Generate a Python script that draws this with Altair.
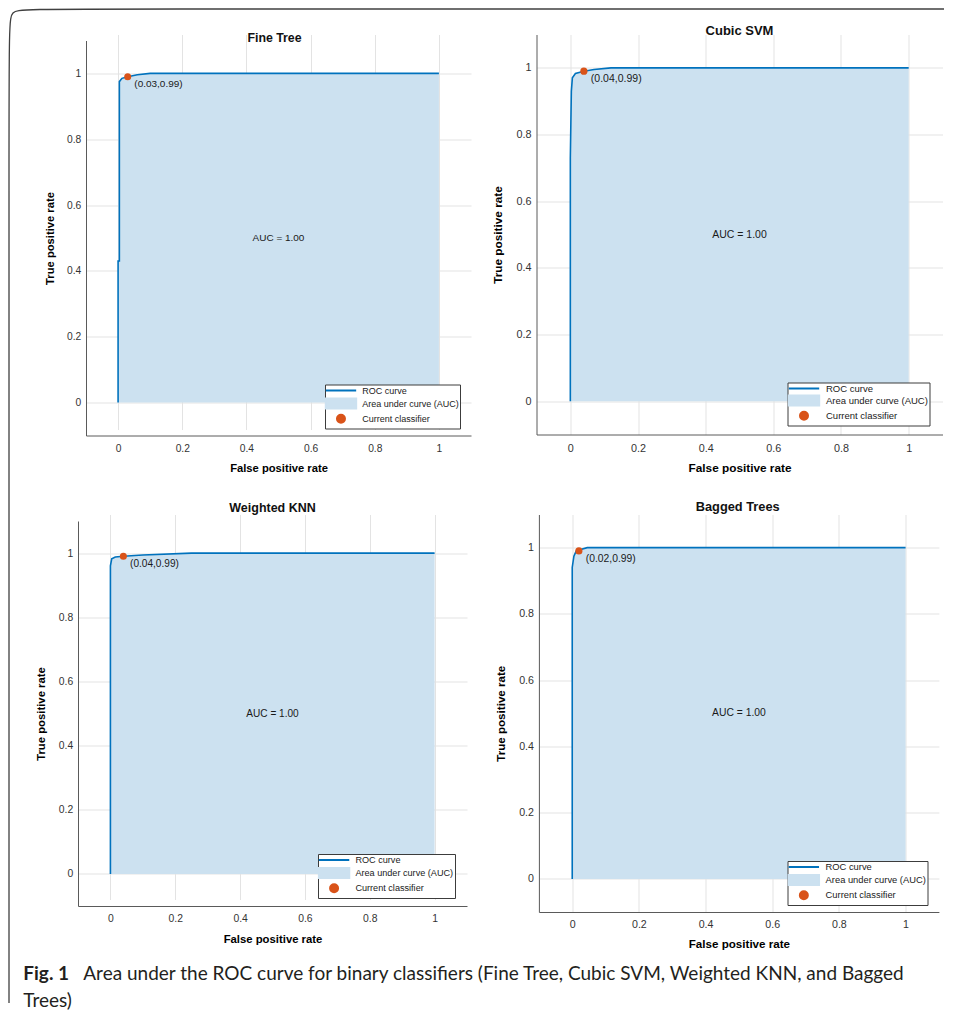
import altair as alt
import pandas as pd

# ---------------- data ----------------
panel_titles = ["Fine Tree", "Cubic SVM", "Weighted KNN", "Bagged Trees"]

fine_tree_fpr = [0.0, 0.0, 0.004, 0.004, 0.012, 0.03, 0.06, 0.1, 1.0]
fine_tree_tpr = [0.0, 0.43, 0.43, 0.975, 0.985, 0.99, 0.996, 1.0, 1.0]
cubic_svm_fpr = [0.0, 0.0, 0.003, 0.006, 0.015, 0.04, 0.07, 0.12, 1.0]
cubic_svm_tpr = [0.0, 0.73, 0.93, 0.97, 0.983, 0.99, 0.995, 1.0, 1.0]
weighted_knn_fpr = [0.0, 0.0, 0.004, 0.015, 0.04, 0.1, 0.25, 1.0]
weighted_knn_tpr = [0.0, 0.96, 0.982, 0.988, 0.99, 0.994, 1.0, 1.0]
bagged_trees_fpr = [0.0, 0.0, 0.005, 0.012, 0.02, 0.045, 1.0]
bagged_trees_tpr = [0.0, 0.94, 0.974, 0.99, 0.993, 1.0, 1.0]

current_fpr = [0.03, 0.04, 0.04, 0.02]
current_tpr = [0.99, 0.99, 0.99, 0.99]
current_labels = ["(0.03,0.99)", "(0.04,0.99)", "(0.04,0.99)", "(0.02,0.99)"]

auc_labels = ["AUC = 1.00", "AUC = 1.00", "AUC = 1.00", "AUC = 1.00"]
auc_x = [0.5, 0.5, 0.5, 0.5]
auc_y = [0.5, 0.5, 0.5, 0.5]

tick_values = [0, 0.2, 0.4, 0.6, 0.8, 1]
axis_domain = [-0.1, 1.1]

series_names = ["ROC curve", "Area under curve (AUC)", "Current classifier"]
series_colors = ["#0072BD", "#CCE1F0", "#D95319"]

caption_bold = "Fig. 1"
caption_lines = [
    "Area under the ROC curve for binary classifiers (Fine Tree, Cubic SVM, Weighted KNN, and Bagged",
    "Trees)",
]

# ---------------- layout / style (not data) ----------------
layout = [
    dict(w=385, h=395, padL=8, padT=6, s=0.95, toff=-10, lx=247, ly=350),
    dict(w=406, h=400, padL=0, padT=0, s=1.0, toff=-3, lx=251, ly=348),
    dict(w=389, h=385, padL=0, padT=6.5, s=0.96, toff=0, lx=240, ly=339.5),
    dict(w=400, h=397.5, padL=2.4, padT=0, s=0.985, toff=0.5, lx=251, ly=346.5),
]
FONT = "Liberation Sans"

# decorative page frame (left and top edges with a rounded corner), in a unit box
frame_x = [0.0, 0.0, 0.0, 0.0256, 1.0]
frame_y = [1.0, 0.0241, 0.0, 0.0, 0.0]

shape_sig = ("datum.value === 'ROC curve' ? 'M-3.8,0H3.8' : "
             "(datum.value === 'Current classifier' ? 'circle' : 'M-3.8,-1.25H3.8V1.25H-3.8Z')")
fill_sig = ("datum.value === 'ROC curve' ? 'transparent' : "
            "(datum.value === 'Current classifier' ? '%s' : '%s')" % (series_colors[2], series_colors[1]))
stroke_sig = "datum.value === 'ROC curve' ? '%s' : 'transparent'" % series_colors[0]


def make_panel(k, fpr, tpr):
    L = layout[k]
    s = L["s"]
    n = len(fpr)
    roc = pd.DataFrame({"fpr": fpr, "tpr": tpr, "order": list(range(n)), "base": [0.0] * n})
    roc_line = roc.assign(series=series_names[0])
    roc_area = roc.assign(series=series_names[1])
    cur = pd.DataFrame({"fpr": [current_fpr[k]], "tpr": [current_tpr[k]],
                        "label": [current_labels[k]], "series": [series_names[2]]})
    auc = pd.DataFrame({"fpr": [auc_x[k]], "tpr": [auc_y[k]], "label": [auc_labels[k]]})

    xs = alt.Scale(domain=axis_domain, range=[L["padL"], L["padL"] + L["w"]], nice=False, zero=False)
    ys = alt.Scale(domain=axis_domain, range=[L["padT"] + L["h"], L["padT"]], nice=False, zero=False)
    xaxis = alt.Axis(title="False positive rate", values=tick_values, format="~g", grid=True,
                     ticks=False, labelFontSize=10.8 * s, titleFontSize=11.8 * s,
                     labelPadding=8 * s, titlePadding=9.5 * s, labelFlush=False)
    yaxis = alt.Axis(title="True positive rate", values=tick_values, format="~g", grid=True,
                     ticks=False, labelFontSize=10.8 * s, titleFontSize=11.8 * s,
                     labelPadding=5.5 * s, titlePadding=12 * s, offset=-L["padL"], labelFlush=False)
    X = alt.X("fpr:Q", scale=xs, axis=xaxis)
    Y = alt.Y("tpr:Q", scale=ys, axis=yaxis, stack=None)
    cs = alt.Scale(domain=series_names, range=series_colors)
    lg = alt.Legend(
        title=None, orient="none", legendX=L["lx"], legendY=L["ly"], direction="vertical",
        labelFont=FONT, labelFontSize=9.5 * s, labelColor="#1a1a1a", labelLimit=400,
        symbolSize=64, symbolOffset=10.5 * s, labelOffset=17 * s, padding=1,
        rowPadding=-1.9, strokeColor="#3c3c3c", fillColor="white", cornerRadius=0,
        symbolType={"expr": shape_sig},
        symbolFillColor={"expr": fill_sig},
        symbolStrokeColor={"expr": stroke_sig},
        symbolStrokeWidth=2, symbolOpacity=1,
    )
    C = alt.Color("series:N", scale=cs, legend=lg)

    area = alt.Chart(roc_area).mark_area(opacity=1).encode(
        x=X, y=Y, y2=alt.Y2("base:Q"), color=C)
    line = alt.Chart(roc_line).mark_line(strokeWidth=1.6).encode(
        x=X, y=Y, color=C, order=alt.Order("order:Q"))
    point = alt.Chart(cur).mark_circle(size=52 * s, opacity=1).encode(x=X, y=Y, color=C)
    plabel = alt.Chart(cur).mark_text(align="left", baseline="middle", dx=7 * s, dy=8 * s,
                                      fontSize=10.5 * s, font=FONT, color="#1a1a1a").encode(
        x=X, y=Y, text="label:N")
    atext = alt.Chart(auc).mark_text(align="center", baseline="middle",
                                     fontSize=10.5 * s, font=FONT, color="#1a1a1a").encode(
        x=X, y=Y, text="label:N")

    return alt.layer(area, line, point, plabel, atext).properties(
        width=L["padL"] + L["w"], height=L["padT"] + L["h"],
        title=alt.TitleParams(panel_titles[k], font=FONT, fontSize=13 * s, fontWeight="bold",
                              color="#111111", anchor="middle", offset=L["toff"]),
    )


panels = [
    make_panel(0, fine_tree_fpr, fine_tree_tpr),
    make_panel(1, cubic_svm_fpr, cubic_svm_tpr),
    make_panel(2, weighted_knn_fpr, weighted_knn_tpr),
    make_panel(3, bagged_trees_fpr, bagged_trees_tpr),
]

CAP = dict(orient="bottom", anchor="start", font="Lato", fontSize=19, color="#231f20")

grid = alt.concat(*panels, columns=2, spacing={"row": 25, "column": 21.5}).resolve_scale(
    x="independent", y="independent", color="independent"
).resolve_legend(color="independent").properties(
    title=alt.TitleParams(caption_bold, fontWeight="bold", offset=14.5, dx=-12.5, **CAP)
)

line1 = alt.vconcat(grid).properties(
    title=alt.TitleParams(caption_lines[0], fontWeight="normal", offset=-19, dx=60, **CAP)
)

line2 = alt.vconcat(line1).properties(
    title=alt.TitleParams(caption_lines[1], fontWeight="normal", offset=8, dx=0, **CAP)
)

frame_df = pd.DataFrame({"fx": frame_x, "fy": frame_y, "o": list(range(len(frame_x)))})
frame = alt.Chart(frame_df).mark_line(
    color="#404040", strokeWidth=1.3, interpolate="basis", strokeJoin="round", strokeCap="butt"
).encode(
    x=alt.X("fx:Q", scale=alt.Scale(domain=[0, 1], range=[-69, 866], nice=False, zero=False), axis=None),
    y=alt.Y("fy:Q", scale=alt.Scale(domain=[0, 1], range=[0, 994], nice=False, zero=False), axis=None),
    order=alt.Order("o:Q"),
).properties(width=1, height=1)

chart = alt.vconcat(frame, line2, spacing=24.5, bounds="flush").properties(
    padding={"left": 0, "top": 0, "right": 0, "bottom": 0}, background="white",
).configure_view(stroke=None).configure_axis(
    domainColor="#5a5a5a", domainWidth=1, gridColor="#e3e3e3", gridWidth=1,
    labelColor="#333333", titleColor="#000000", labelFont=FONT, titleFont=FONT,
    titleFontWeight="bold",
)

chart.save("out.html", embed_options={"renderer": "svg", "actions": False})
